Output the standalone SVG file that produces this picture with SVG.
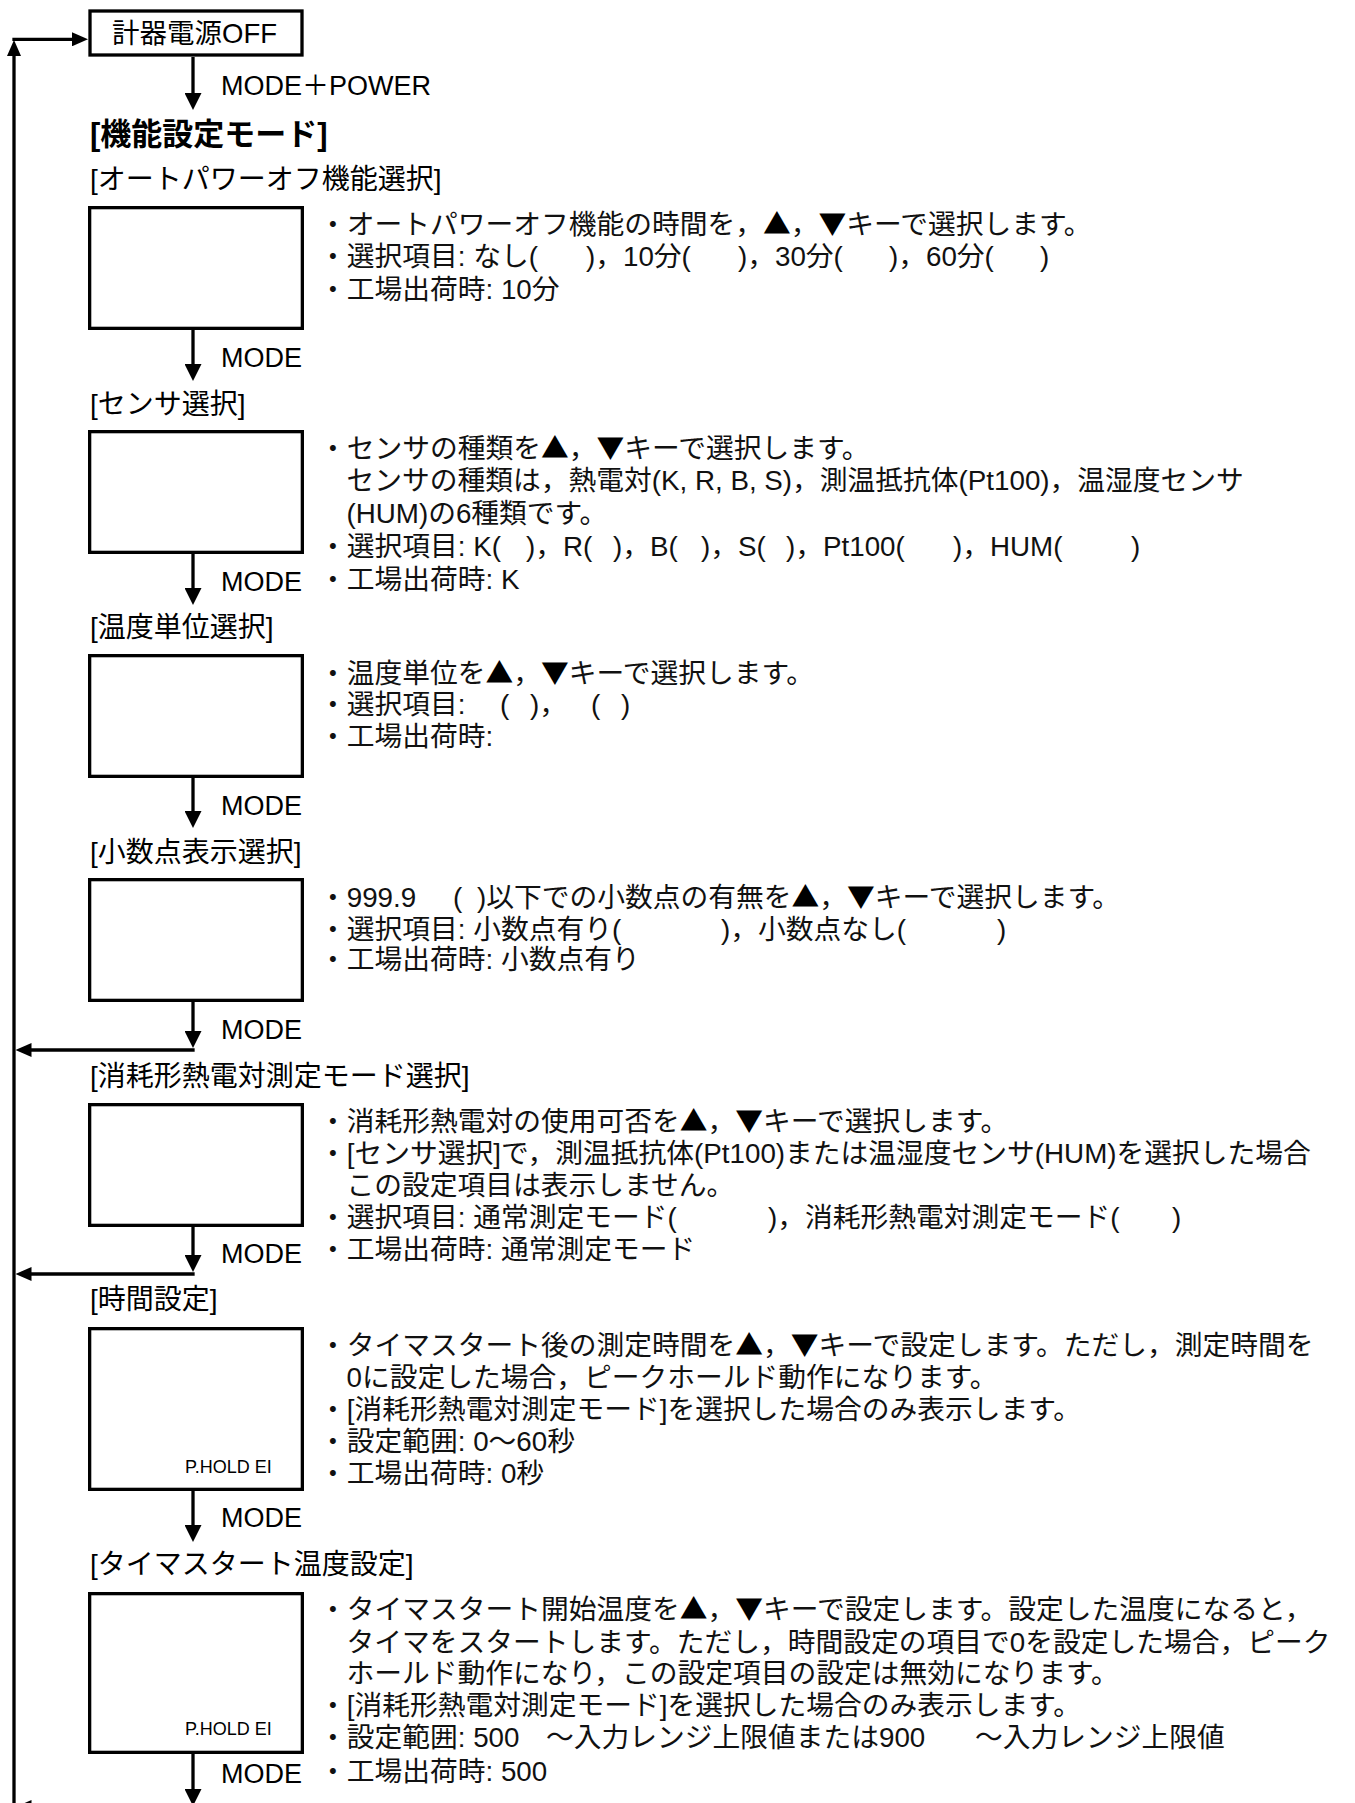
<svg xmlns="http://www.w3.org/2000/svg" width="1355" height="1803" viewBox="0 0 1355 1803">
<style>
.bg{fill:#fff}
.box{fill:#fff;stroke:#000;stroke-width:3.3}
.ln{fill:none;stroke:#000;stroke-width:3.3}
.lbl{font-family:"Liberation Sans","Noto Sans CJK JP",sans-serif;font-size:28px;fill:#000}
.ttl{font-family:"Liberation Sans","Noto Sans CJK JP",sans-serif;font-size:31px;font-weight:bold;fill:#000}
.mode{font-family:"Liberation Sans","Noto Sans CJK JP",sans-serif;font-size:27px;fill:#000}
.desc{font-family:"Liberation Sans","Noto Sans CJK JP",sans-serif;font-size:27.75px;fill:#111}
.sym{font-family:"Noto Sans CJK JP",sans-serif;fill:#000}
.ph{font-family:"Liberation Sans",sans-serif;font-size:18px;fill:#000}
</style>
<defs>
<marker id="arrB" markerUnits="userSpaceOnUse" markerWidth="17" markerHeight="17" refX="7" refY="8.5" orient="auto"><path d="M0,0 L17,8.5 L0,17 z" fill="#000"/></marker>
<marker id="arrS" markerUnits="userSpaceOnUse" markerWidth="16" markerHeight="14" refX="6" refY="7" orient="auto"><path d="M0,0 L16,7 L0,14 z" fill="#000"/></marker>
</defs>
<rect class="bg" x="0" y="0" width="1355" height="1803"/>

<g id="connectors">
<path class="ln" d="M14,1812 V50" marker-end="url(#arrS)"/>
<path class="ln" d="M12.35,39.3 H78" marker-end="url(#arrS)"/>
<path class="ln" d="M193,57 V100" marker-end="url(#arrB)"/>
<path class="ln" d="M193,330 V371" marker-end="url(#arrB)"/>
<path class="ln" d="M193,554 V595" marker-end="url(#arrB)"/>
<path class="ln" d="M193,778 V818" marker-end="url(#arrB)"/>
<path class="ln" d="M193,1002 V1038" marker-end="url(#arrB)"/>
<path class="ln" d="M194.65,1050 H25.5" marker-end="url(#arrS)"/>
<path class="ln" d="M193,1227 V1262" marker-end="url(#arrB)"/>
<path class="ln" d="M194.65,1274 H25.5" marker-end="url(#arrS)"/>
<path class="ln" d="M193,1491 V1532" marker-end="url(#arrB)"/>
<path class="ln" d="M193,1754 V1796" marker-end="url(#arrB)"/>
<path class="ln" d="M194.65,1807 H25.5" marker-end="url(#arrS)"/>
<text class="mode" x="221" y="95">MODE＋POWER</text>
<text class="mode" x="221" y="367">MODE</text>
<text class="mode" x="221" y="591">MODE</text>
<text class="mode" x="221" y="815">MODE</text>
<text class="mode" x="221" y="1039">MODE</text>
<text class="mode" x="221" y="1263">MODE</text>
<text class="mode" x="221" y="1527">MODE</text>
<text class="mode" x="221" y="1783">MODE</text>
</g>

<g id="n-off">
<rect class="box" x="90" y="11" width="212" height="44"/>
<text class="lbl" x="112" y="43" style="font-size:27.5px">計器電源OFF</text>
</g>

<g id="n-title">
<text class="ttl" x="90" y="145">[機能設定モード]</text>
</g>

<g id="n-autooff">
<text class="lbl" x="90" y="189">[オートパワーオフ機能選択]</text>
<rect class="box" x="89.65" y="207.65" width="212.7" height="120.7"/>
<text class="desc" x="319" y="233.5">・オートパワーオフ機能の時間を，<tspan class="sym">▲</tspan>，<tspan class="sym">▼</tspan>キーで選択します。</text>
<text class="desc" y="266"><tspan x="319">・選択項目: なし(</tspan><tspan x="586">)，10分(</tspan><tspan x="738">)，30分(</tspan><tspan x="889">)，60分(</tspan><tspan x="1040">)</tspan></text>
<text class="desc" x="319" y="298.5">・工場出荷時: 10分</text>
</g>

<g id="n-sensor">
<text class="lbl" x="90" y="414">[センサ選択]</text>
<rect class="box" x="89.65" y="431.65" width="212.7" height="120.7"/>
<text class="desc" x="319" y="457.5">・センサの種類を<tspan class="sym">▲</tspan>，<tspan class="sym">▼</tspan>キーで選択します。</text>
<text class="desc" x="346.5" y="490">センサの種類は，熱電対(K, R, B, S)，測温抵抗体(Pt100)，温湿度センサ</text>
<text class="desc" x="346.5" y="522.5">(HUM)の6種類です。</text>
<text class="desc" y="555.5"><tspan x="319">・選択項目: K(</tspan><tspan x="526">)，R(</tspan><tspan x="613">)，B(</tspan><tspan x="701">)，S(</tspan><tspan x="786">)，Pt100(</tspan><tspan x="953">)，HUM(</tspan><tspan x="1131">)</tspan></text>
<text class="desc" x="319" y="588.5">・工場出荷時: K</text>
</g>

<g id="n-unit">
<text class="lbl" x="90" y="637">[温度単位選択]</text>
<rect class="box" x="89.65" y="655.65" width="212.7" height="120.7"/>
<text class="desc" x="319" y="682.5">・温度単位を<tspan class="sym">▲</tspan>，<tspan class="sym">▼</tspan>キーで選択します。</text>
<text class="desc" y="713.5"><tspan x="319">・選択項目:</tspan><tspan x="500">(</tspan><tspan x="530">)，</tspan><tspan x="591">(</tspan><tspan x="621">)</tspan></text>
<text class="desc" x="319" y="745.5">・工場出荷時:</text>
</g>

<g id="n-decimal">
<text class="lbl" x="90" y="862">[小数点表示選択]</text>
<rect class="box" x="89.65" y="879.65" width="212.7" height="120.7"/>
<text class="desc" y="906.5"><tspan x="319">・999.9</tspan><tspan x="453">(</tspan><tspan x="477">)以下での小数点の有無を<tspan class="sym">▲</tspan>，<tspan class="sym">▼</tspan>キーで選択します。</tspan></text>
<text class="desc" y="938.5"><tspan x="319">・選択項目: 小数点有り(</tspan><tspan x="721">)，小数点なし(</tspan><tspan x="997">)</tspan></text>
<text class="desc" x="319" y="968.5">・工場出荷時: 小数点有り</text>
</g>

<g id="n-consumable">
<text class="lbl" x="90" y="1086">[消耗形熱電対測定モード選択]</text>
<rect class="box" x="89.65" y="1104.65" width="212.7" height="120.7"/>
<text class="desc" x="319" y="1130.5">・消耗形熱電対の使用可否を<tspan class="sym">▲</tspan>，<tspan class="sym">▼</tspan>キーで選択します。</text>
<text class="desc" x="319" y="1162.5">・[センサ選択]で，測温抵抗体(Pt100)または温湿度センサ(HUM)を選択した場合</text>
<text class="desc" x="346.5" y="1194.5">この設定項目は表示しません。</text>
<text class="desc" y="1226.5"><tspan x="319">・選択項目: 通常測定モード(</tspan><tspan x="768">)，消耗形熱電対測定モード(</tspan><tspan x="1172">)</tspan></text>
<text class="desc" x="319" y="1258.5">・工場出荷時: 通常測定モード</text>
</g>

<g id="n-time">
<text class="lbl" x="90" y="1309">[時間設定]</text>
<rect class="box" x="89.65" y="1328.65" width="212.7" height="160.7"/>
<text class="ph" x="185" y="1473">P.HOLD EI</text>
<text class="desc" x="319" y="1354.5">・タイマスタート後の測定時間を<tspan class="sym">▲</tspan>，<tspan class="sym">▼</tspan>キーで設定します。ただし，測定時間を</text>
<text class="desc" x="346.5" y="1386.5">0に設定した場合，ピークホールド動作になります。</text>
<text class="desc" x="319" y="1418.5">・[消耗形熱電対測定モード]を選択した場合のみ表示します。</text>
<text class="desc" x="319" y="1450.5">・設定範囲: 0〜60秒</text>
<text class="desc" x="319" y="1482.5">・工場出荷時: 0秒</text>
</g>

<g id="n-timerstart">
<text class="lbl" x="90" y="1574">[タイマスタート温度設定]</text>
<rect class="box" x="89.65" y="1593.65" width="212.7" height="158.7"/>
<text class="ph" x="185" y="1735">P.HOLD EI</text>
<text class="desc" x="319" y="1618.5">・タイマスタート開始温度を<tspan class="sym">▲</tspan>，<tspan class="sym">▼</tspan>キーで設定します。設定した温度になると，</text>
<text class="desc" x="346.5" y="1651.5">タイマをスタートします。ただし，時間設定の項目で0を設定した場合，ピーク</text>
<text class="desc" x="346.5" y="1682.5">ホールド動作になり，この設定項目の設定は無効になります。</text>
<text class="desc" x="319" y="1714.5">・[消耗形熱電対測定モード]を選択した場合のみ表示します。</text>
<text class="desc" y="1746.5"><tspan x="319">・設定範囲: 500</tspan><tspan x="546">〜入力レンジ上限値または900</tspan><tspan x="975">〜入力レンジ上限値</tspan></text>
<text class="desc" x="319" y="1780.5">・工場出荷時: 500</text>
</g>
</svg>
